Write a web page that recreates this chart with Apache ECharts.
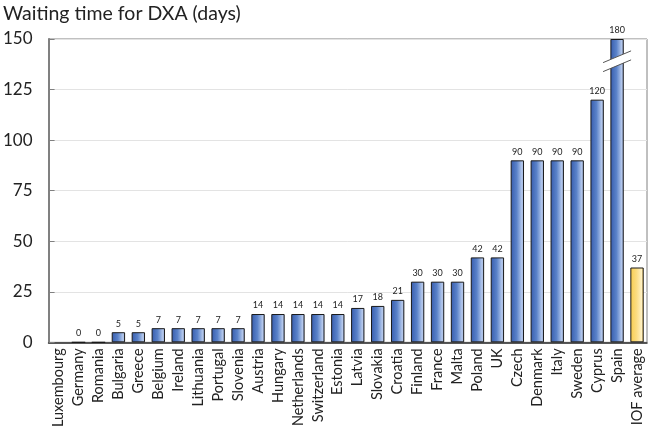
<!DOCTYPE html>
<html>
<head>
<meta charset="utf-8">
<script src="https://cdn.jsdelivr.net/npm/echarts@6/dist/echarts.min.js"></script>
<style>html,body{margin:0;padding:0;background:#fff;}#c{width:648px;height:430px;}</style>
</head>
<body>
<div id="c"></div>
<script>
const categories = ['Luxembourg','Germany','Romania','Bulgaria','Greece','Belgium','Ireland','Lithuania','Portugal','Slovenia','Austria','Hungary','Netherlands','Switzerland','Estonia','Latvia','Slovakia','Croatia','Finland','France','Malta','Poland','UK','Czech','Denmark','Italy','Sweden','Cyprus','Spain','IOF average'];
const values = [null,0,0,5,5,7,7,7,7,7,14,14,14,14,14,17,18,21,30,30,30,42,42,90,90,90,90,120,180,37];
const yTicks = [0,25,50,75,100,125,150];
const axisMax = 150;
const breakIndex = 28;
const averageIndex = 29;

const blue = {type:'linear',x:0,y:0,x2:1,y2:0,colorStops:[
  {offset:0,color:'#375cad'},{offset:0.45,color:'#5a82c9'},{offset:0.85,color:'#b6c9ec'},{offset:1,color:'#8aa2d4'}]};
const yellow = {type:'linear',x:0,y:0,x2:1,y2:0,colorStops:[
  {offset:0,color:'#f8cd4f'},{offset:0.45,color:'#fbdc80'},{offset:0.85,color:'#fff1c4'},{offset:1,color:'#e3b33a'}]};

const font = 'Lato, "Open Sans", sans-serif';
const chart = echarts.init(document.getElementById('c'));
chart.setOption({
  animation:false,
  title:{text:'Waiting time for DXA (days)',left:-2,top:-1,textStyle:{fontFamily:font,fontSize:19.5,fontWeight:'normal',color:'#222'}},
  grid:{left:45,right:1,top:39,bottom:87,show:true,borderColor:'#808080',borderWidth:1,backgroundColor:'transparent'},
  xAxis:{type:'category',data:categories,
    axisLine:{lineStyle:{color:'#222',width:1.5}},
    axisTick:{show:false},
    axisLabel:{rotate:90,interval:0,fontFamily:font,fontSize:14.5,color:'#222',margin:6}},
  yAxis:{type:'value',min:0,max:axisMax,interval:25,
    axisLine:{show:true,lineStyle:{color:'#808080',width:2}},
    axisTick:{show:true,inside:true,length:6,lineStyle:{color:'#808080'}},
    splitLine:{lineStyle:{color:'#e3e3e3'}},
    axisLabel:{fontFamily:font,fontSize:17,color:'#222',margin:16,
      formatter:v=>yTicks.includes(v)?String(v):''}},
  series:[{type:'bar',barWidth:'67%',
    data:values.map((v,i)=>({value:v==null?null:Math.min(v,axisMax),
      itemStyle:{color:i===averageIndex?yellow:blue,borderColor:'#1a1a1a',borderWidth:1}})),
    label:{show:true,position:'top',distance:4,fontFamily:font,fontSize:9,color:'#222',
      formatter:p=>values[p.dataIndex]==null?'':String(values[p.dataIndex])}
  }]
});
const c = chart.convertToPixel({seriesIndex:0},[breakIndex,139]);
const x=c[0], y=c[1], hw=14, s=0.42, g=4.5;
chart.setOption({graphic:[
  {type:'polygon',shape:{points:[[x-hw,y+hw*s-g],[x+hw,y-hw*s-g],[x+hw,y-hw*s+g],[x-hw,y+hw*s+g]]},style:{fill:'#fff'},z:100},
  {type:'line',shape:{x1:x-hw,y1:y+hw*s-g,x2:x+hw,y2:y-hw*s-g},style:{stroke:'#555',lineWidth:1},z:101},
  {type:'line',shape:{x1:x-hw,y1:y+hw*s+g,x2:x+hw,y2:y-hw*s+g},style:{stroke:'#555',lineWidth:1},z:101}
]});
</script>
</body>
</html>
